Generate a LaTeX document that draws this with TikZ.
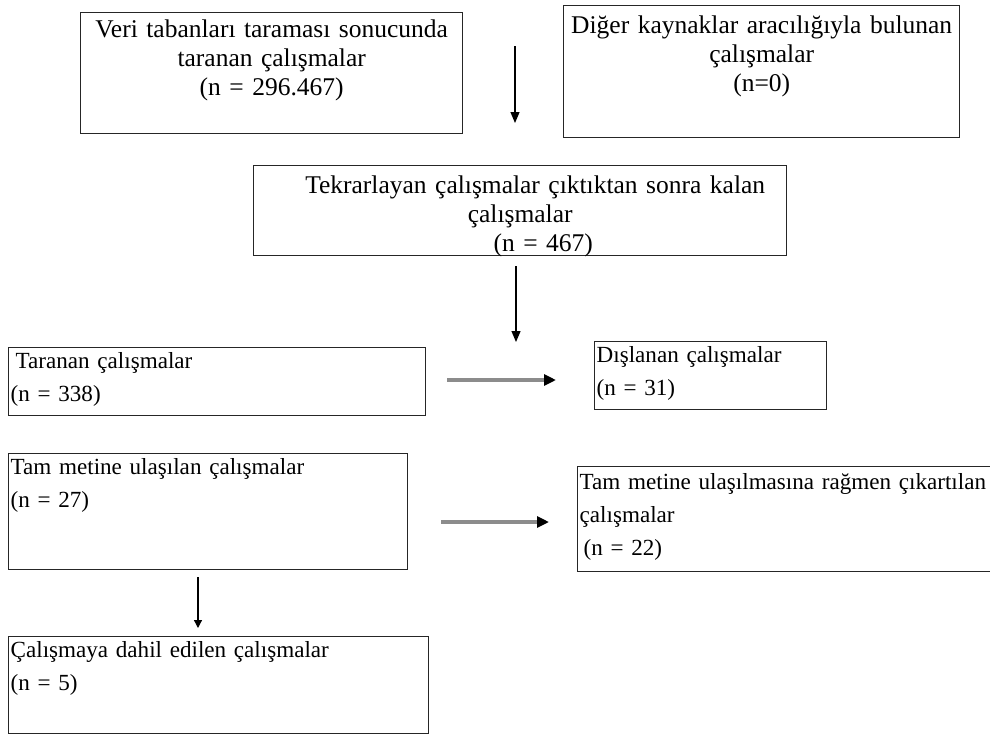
\documentclass[tikz,border=0pt]{standalone}
\usepackage{fontspec}
\setmainfont{Liberation Serif}
\usetikzlibrary{arrows.meta}
\tikzset{
    flowbox/.style={
        draw=black!85, line width=1.4pt, anchor=north west,
        inner xsep=2pt, inner ysep=0pt, align=#1
    },
    flowbox/.default=left,
    upper/.style={font=\fontsize{25.5}{29}\selectfont},
    lower/.style={font=\fontsize{23.1}{33}\selectfont},
    thinarrow/.style={-{Triangle[length=11pt,width=9pt]}, line width=1.2pt},
    grayarrow/.style={
        -{Triangle[length=12pt,width=11pt,color=black]},
        line width=3.2pt, draw=black!45
    }
}

\begin{document}
\begin{tikzpicture}[x=1pt, y=-1pt]
    \useasboundingbox (0,0) rectangle (990,734);

    % top row
    \node[flowbox=center, upper, text width=378pt, text height=25pt, text depth=96pt] (veri) at (80,12)
        {Veri tabanları taraması sonucunda\\taranan çalışmalar\\(n = 296.467)};
    \node[flowbox=center, upper, text width=392pt, text height=28pt, text depth=104pt] (diger) at (563,5)
        {Diğer kaynaklar aracılığıyla bulunan\\çalışmalar\\(n=0)};
    \node[flowbox=center, upper, text width=529pt, text height=28pt, text depth=62pt] (tekrar) at (253,165)
        {\hspace*{30pt}Tekrarlayan çalışmalar çıktıktan sonra kalan\\çalışmalar\\\hspace*{46pt}(n = 467)};

    % screening
    \node[flowbox, lower, text width=413pt, text height=21pt, text depth=47pt] (taranan) at (8,347)
        {\hspace*{5pt}Taranan çalışmalar\\(n = 338)};
    \node[flowbox, lower, text width=228pt, text height=21pt, text depth=47pt] (dislanan) at (594,341)
        {Dışlanan çalışmalar\\(n = 31)};

    % full text
    \node[flowbox, lower, text width=395pt, text height=21pt, text depth=95pt] (tammetin) at (8,453)
        {Tam metine ulaşılan çalışmalar\\(n = 27)};
    \node[flowbox, lower, text width=416pt, text height=23pt, text depth=82pt] (cikan) at (577,466)
        {Tam metine ulaşılmasına rağmen çıkartılan\\çalışmalar\\\hspace*{4pt}(n = 22)};

    % included
    \node[flowbox, lower, text width=416pt, text height=21pt, text depth=76pt] (dahil) at (8,636)
        {Çalışmaya dahil edilen çalışmalar\\(n = 5)};

    % arrows
    \coordinate (a1s) at (515,46);   \coordinate (a1e) at (515,123);
    \coordinate (a2s) at (516,266);  \coordinate (a2e) at (516,342);
    \coordinate (a3s) at (447,380);  \coordinate (a3e) at (556,380);
    \coordinate (a4s) at (441,522);  \coordinate (a4e) at (549,522);
    \coordinate (a5s) at (198,577);  \coordinate (a5e) at (198,628);
    \draw[thinarrow] (a1s) -- (a1e);
    \draw[thinarrow] (a2s) -- (a2e);
    \draw[grayarrow] (a3s) -- (a3e);
    \draw[grayarrow] (a4s) -- (a4e);
    \draw[thinarrow, -{Triangle[length=8pt,width=8pt]}] (a5s) -- (a5e);
\end{tikzpicture}
\end{document}
